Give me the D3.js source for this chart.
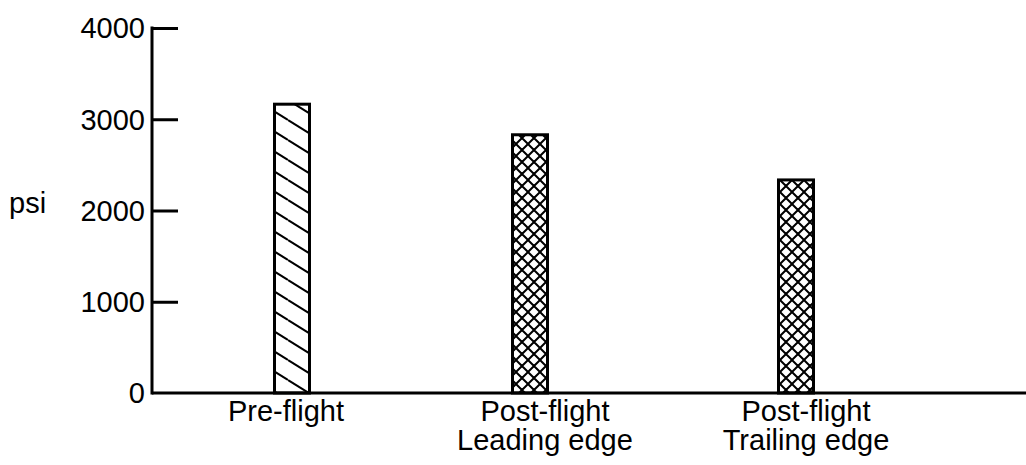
<!DOCTYPE html>
<html>
<head>
<meta charset="utf-8">
<script src="https://cdn.jsdelivr.net/npm/d3@7"></script>
<style>
  body { margin: 0; background: #fff; }
  svg { display: block; font-family: "Liberation Sans", Arial, sans-serif; }
</style>
</head>
<body>
<div id="chart"></div>
<script>
// data
const categories = ['Pre-flight', 'Post-flight Leading edge', 'Post-flight Trailing edge'];
const labelLines = [['Pre-flight'], ['Post-flight', 'Leading edge'], ['Post-flight', 'Trailing edge']];
const psiValues = [3165, 2830, 2335];
const hatches = ['diag', 'cross', 'cross'];
const yTicks = [0, 1000, 2000, 3000, 4000];

const width = 1026, height = 465;
const margin = { top: 28, left: 152, bottom: 72 };
const y0 = height - margin.bottom;

const svg = d3.select('#chart').append('svg')
  .attr('width', width)
  .attr('height', height);

// hatch patterns
const defs = svg.append('defs');
let diag = defs.append('pattern')
  .attr('id', 'diag')
  .attr('patternUnits', 'userSpaceOnUse')
  .attr('width', 32).attr('height', 20);
[[0, 0], [0, 20], [0, -20]].forEach(o => {
  diag.append('line')
    .attr('x1', o[0]).attr('y1', o[1])
    .attr('x2', o[0] + 32).attr('y2', o[1] + 20)
    .attr('stroke', '#000').attr('stroke-width', 2);
});
let cross = defs.append('pattern')
  .attr('id', 'cross')
  .attr('patternUnits', 'userSpaceOnUse')
  .attr('width', 12).attr('height', 12);
cross.append('path')
  .attr('d', 'M-1,-1L13,13M-1,13L13,-1M-7,5L5,17M7,-5L19,7M-7,7L7,-7M5,19L19,5')
  .attr('stroke', '#000').attr('stroke-width', 2).attr('fill', 'none');

let yScale = d3.scaleLinear()
  .domain([0, 4000])
  .range([y0, margin.top]);

let xScale = d3.scaleOrdinal()
  .domain(categories)
  .range([292, 530, 796]);
let labelScale = d3.scaleOrdinal()
  .domain(categories)
  .range([286, 545, 806]);
const barW = 35;

// bars
svg.append('g').attr('class', 'bars')
  .selectAll('rect')
  .data(categories)
  .enter()
  .append('rect')
  .attr('x', d => xScale(d) - barW / 2)
  .attr('y', (d, i) => yScale(psiValues[i]))
  .attr('width', barW)
  .attr('height', (d, i) => y0 - yScale(psiValues[i]))
  .attr('fill', (d, i) => `url(#${hatches[i]})`)
  .attr('stroke', '#000')
  .attr('stroke-width', 3);

// y axis, ticks pointing inward
let yAxis = d3.axisRight(yScale)
  .tickValues(yTicks.filter(t => t > 0))
  .tickSize(26)
  .tickFormat('');
let gY = svg.append('g')
  .attr('class', 'y axis')
  .attr('transform', `translate(${margin.left},0)`)
  .call(yAxis);
gY.select('.domain').remove();
gY.selectAll('.tick line').attr('stroke', '#000').attr('stroke-width', 3);
gY.append('line')
  .attr('x1', 0).attr('x2', 0)
  .attr('y1', yScale(4000) - 1.5).attr('y2', y0 + 1.5)
  .attr('stroke', '#000').attr('stroke-width', 3);

svg.append('g').attr('class', 'ytick-labels')
  .selectAll('text')
  .data(yTicks)
  .enter()
  .append('text')
  .attr('x', margin.left - 7)
  .attr('y', d => yScale(d))
  .attr('dy', '0.36em')
  .attr('text-anchor', 'end')
  .style('font-size', '29px')
  .text(d => d);

// x baseline
svg.append('line')
  .attr('x1', margin.left).attr('x2', width)
  .attr('y1', y0).attr('y2', y0)
  .attr('stroke', '#000').attr('stroke-width', 3);

// y title
svg.append('text')
  .attr('x', 9)
  .attr('y', yScale(2000) + 2)
  .style('font-size', '29px')
  .text('psi');

// category labels
let lab = svg.append('g').attr('class', 'x-labels')
  .selectAll('text')
  .data(categories)
  .enter()
  .append('text')
  .attr('text-anchor', 'middle')
  .style('font-size', '29px');
lab.selectAll('tspan')
  .data((d, i) => labelLines[i].map(s => ({ s: s, c: d })))
  .enter()
  .append('tspan')
  .attr('x', d => labelScale(d.c))
  .attr('y', (d, j) => y0 + 28 + j * 29)
  .text(d => d.s);
</script>
</body>
</html>
